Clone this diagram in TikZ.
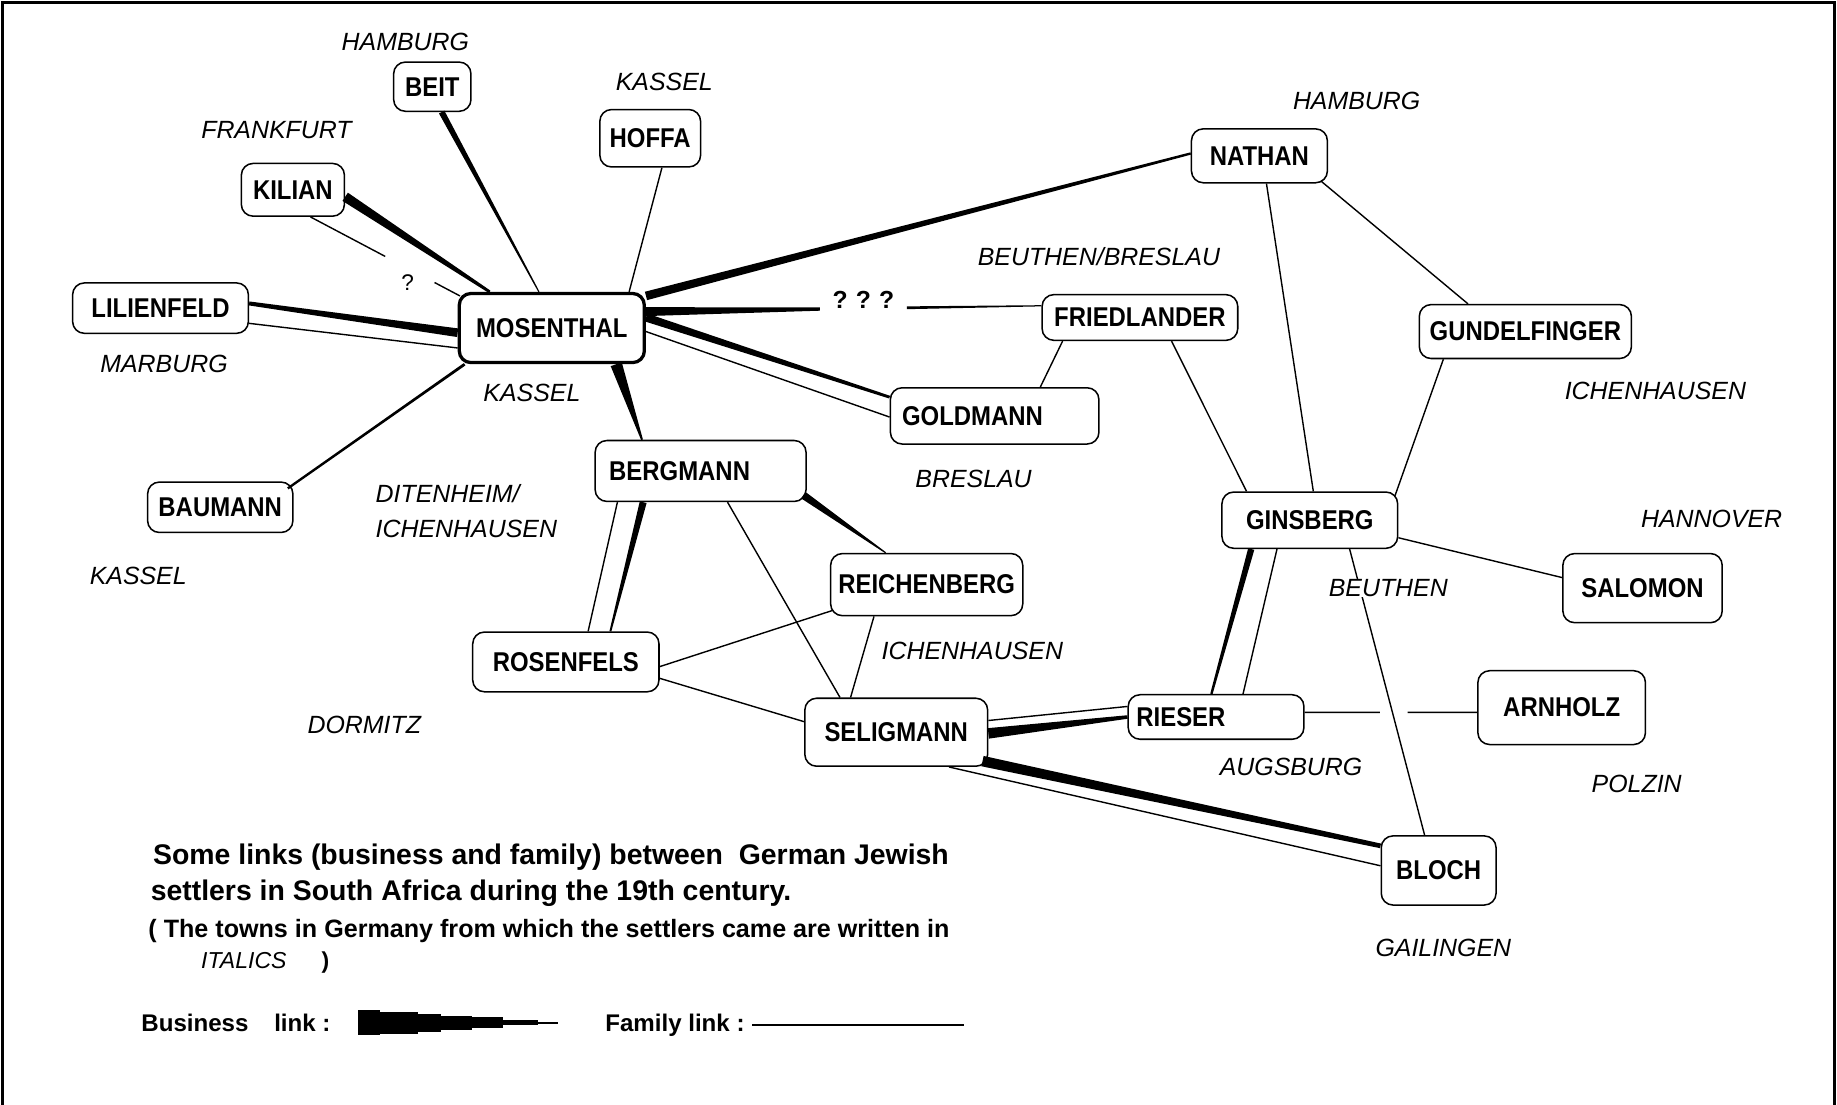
\documentclass[tikz,border=0pt]{standalone}
\usepackage{fontspec}
\setmainfont{Liberation Sans}
\newfontfamily\namefont[FakeStretch=0.88]{Liberation Sans}
\usetikzlibrary{calc, positioning}

\tikzset{
  person/.style={draw, rounded corners=1mm, line width=0.13mm, inner sep=0pt,
    font=\namefont\bfseries\fontsize{6.6}{7}\selectfont},
  town/.style={font=\itshape\fontsize{6.05}{8.6}\selectfont, inner sep=0pt},
  family/.style={line width=0.12mm},
  caption/.style={font=\bfseries\fontsize{6.9}{8}\selectfont, inner sep=0pt, anchor=west},
  small caption/.style={font=\bfseries\fontsize{6.1}{7}\selectfont, inner sep=0pt, anchor=west},
  key/.style={font=\bfseries\fontsize{5.85}{7}\selectfont, inner sep=0pt, anchor=west},
}

% tapered business link: from, to, half width at from, half width at to
\newcommand\bizlink[4]{\fill ($(#1)!#3!90:(#2)$) -- ($(#2)!#4!-90:(#1)$) -- ($(#2)!#4!90:(#1)$) -- ($(#1)!#3!-90:(#2)$) -- cycle;}

\begin{document}
\begin{tikzpicture}[x=0.1mm, y=-0.1mm]
  \useasboundingbox (0,0) rectangle (1568,943);
  \fill[white] (0,0) rectangle (1568,943);
  \draw[line width=0.2mm] (2,943) -- (2,2) -- (1566,2) -- (1566,943);

  % settlers
  \node[person, minimum width=6.6mm, minimum height=4.2mm] (beit) at (369,74) {BEIT};
  \node[person, minimum width=8.6mm, minimum height=4.9mm] (hoffa) at (555,118) {HOFFA};
  \node[person, minimum width=8.8mm, minimum height=4.5mm] (kilian) at (250,162) {KILIAN};
  \node[person, minimum width=15mm, minimum height=4.3mm] (lilienfeld) at (137,263) {LILIENFELD};
  \node[person, line width=0.28mm, minimum width=15.8mm, minimum height=5.9mm] (mosenthal) at (471,280) {MOSENTHAL};
  \node[person, minimum width=12.4mm, minimum height=4.3mm] (baumann) at (188,433) {BAUMANN};
  \node[person, text width=15.6mm, inner xsep=1.2mm, align=left, minimum height=5.2mm] (bergmann) at (598,402) {BERGMANN};
  \node[person, text width=15.8mm, inner xsep=1mm, align=left, minimum height=4.8mm] (goldmann) at (849,355) {GOLDMANN};
  \node[person, minimum width=16.7mm, minimum height=3.9mm] (friedlander) at (973,271) {FRIEDLANDER};
  \node[person, minimum width=11.6mm, minimum height=4.6mm] (nathan) at (1075,133) {NATHAN};
  \node[person, minimum width=18.1mm, minimum height=4.6mm] (gundelfinger) at (1302,283) {GUNDELFINGER};
  \node[person, minimum width=15mm, minimum height=4.8mm] (ginsberg) at (1118,444) {GINSBERG};
  \node[person, minimum width=13.6mm, minimum height=5.9mm] (salomon) at (1402,502) {SALOMON};
  \node[person, minimum width=16.4mm, minimum height=5.3mm] (reichenberg) at (791,499) {REICHENBERG};
  \node[person, minimum width=15.9mm, minimum height=5.1mm] (rosenfels) at (483,565) {ROSENFELS};
  \node[person, minimum width=15.6mm, minimum height=5.8mm] (seligmann) at (765,625) {SELIGMANN};
  \node[person, text width=13.6mm, inner xsep=0.7mm, align=left, minimum height=3.8mm] (rieser) at (1038,612) {RIESER};
  \node[person, minimum width=14.3mm, minimum height=6.3mm] (arnholz) at (1333,604) {ARNHOLZ};
  \node[person, minimum width=9.8mm, minimum height=5.9mm] (bloch) at (1228,743) {BLOCH};

  % link ends
  \coordinate (beit-m) at ([shift={(8,0)}]beit.south);
  \coordinate (mos-b) at ([shift={(-11,0)}]mosenthal.north);
  \coordinate (hoffa-m) at ([shift={(10,0)}]hoffa.south);
  \coordinate (mos-h) at ([shift={(66,0)}]mosenthal.north);
  \coordinate (kilian-m) at ([shift={(0,6)}]kilian.east);
  \coordinate (mos-k) at ([shift={(-53,0)}]mosenthal.north);
  \coordinate (kilian-q) at ([shift={(15,0)}]kilian.south);
  \coordinate (mos-q) at ([shift={(2,3.5)}]mosenthal.north west);
  \coordinate (lil-m) at ([shift={(0,-4)}]lilienfeld.east);
  \coordinate (mos-l) at ([shift={(0,4)}]mosenthal.west);
  \coordinate (lil-mf) at ([shift={(0,13)}]lilienfeld.east);
  \coordinate (mos-lf) at ([shift={(0,17)}]mosenthal.west);
  \coordinate (bau-m) at ([shift={(-5,6)}]baumann.north east);
  \coordinate (mos-ba) at ([shift={(6,0)}]mosenthal.south west);
  \coordinate (mos-n) at ([shift={(0,3.5)}]mosenthal.north east);
  \coordinate (nathan-m) at ([shift={(0,-2)}]nathan.west);
  \coordinate (mos-f) at ([shift={(0,-14)}]mosenthal.east);
  \coordinate (fried-m) at ([shift={(0,-10)}]friedlander.west);
  \coordinate (mos-g) at ([shift={(0,-9)}]mosenthal.east);
  \coordinate (gold-m) at ([shift={(0,-16)}]goldmann.west);
  \coordinate (mos-gf) at ([shift={(0,3)}]mosenthal.east);
  \coordinate (gold-mf) at ([shift={(0,1)}]goldmann.west);
  \coordinate (mos-be) at ([shift={(55,0)}]mosenthal.south);
  \coordinate (berg-m) at ([shift={(-50,0)}]bergmann.north);

  \coordinate (berg-re) at ([shift={(-3,-6)}]bergmann.south east);
  \coordinate (reich-b) at ([shift={(-35,0)}]reichenberg.north);
  \coordinate (berg-r) at ([shift={(-49,0)}]bergmann.south);
  \coordinate (ros-b) at ([shift={(38,0)}]rosenfels.north);
  \coordinate (berg-rf) at ([shift={(-71,0)}]bergmann.south);
  \coordinate (ros-bf) at ([shift={(19,0)}]rosenfels.north);
  \coordinate (berg-s) at ([shift={(23,0)}]bergmann.south);
  \coordinate (sel-b) at ([shift={(-48,0)}]seligmann.north);
  \coordinate (reich-r) at ([shift={(2,-5)}]reichenberg.south west);
  \coordinate (ros-re) at ([shift={(0,4)}]rosenfels.east);
  \coordinate (reich-s) at ([shift={(-45,0)}]reichenberg.south);
  \coordinate (sel-re) at ([shift={(-39,0)}]seligmann.north);
  \coordinate (ros-s) at ([shift={(0,14)}]rosenfels.east);
  \coordinate (sel-r) at ([shift={(0,-9)}]seligmann.west);

  \coordinate (fried-g) at ([shift={(-66,0)}]friedlander.south);
  \coordinate (gold-f) at ([shift={(39,0)}]goldmann.north);
  \coordinate (fried-gi) at ([shift={(27,0)}]friedlander.south);
  \coordinate (gins-f) at ([shift={(-54,0)}]ginsberg.north);
  \coordinate (nathan-gi) at ([shift={(6,0)}]nathan.south);
  \coordinate (gins-n) at ([shift={(3,0)}]ginsberg.north);
  \coordinate (nathan-gu) at ([shift={(-6,-2)}]nathan.south east);
  \coordinate (gund-n) at ([shift={(-49,0)}]gundelfinger.north);
  \coordinate (gund-gi) at ([shift={(-70,0)}]gundelfinger.south);
  \coordinate (gins-gu) at ([shift={(-3,4)}]ginsberg.north east);
  \coordinate (gins-s) at ([shift={(0,15)}]ginsberg.east);
  \coordinate (sal-g) at ([shift={(0,-9)}]salomon.west);
  \coordinate (gins-r) at ([shift={(-50,0)}]ginsberg.south);
  \coordinate (ries-g) at ([shift={(-4,0)}]rieser.north);
  \coordinate (gins-rf) at ([shift={(-28,0)}]ginsberg.south);
  \coordinate (ries-gf) at ([shift={(23,0)}]rieser.north);
  \coordinate (gins-bl) at ([shift={(34,0)}]ginsberg.south);
  \coordinate (bloch-g) at ([shift={(-12,0)}]bloch.north);
  \coordinate (ries-a) at ([shift={(0,-4)}]rieser.east);
  \coordinate (arn-r) at ([shift={(0,4)}]arnholz.west);
  \coordinate (sel-ri) at ([shift={(0,1)}]seligmann.east);
  \coordinate (ries-s) at (rieser.west);
  \coordinate (sel-rf) at ([shift={(0,-10)}]seligmann.east);
  \coordinate (ries-sf) at ([shift={(0,-9)}]rieser.west);
  \coordinate (sel-bl) at ([shift={(-5,-5)}]seligmann.south east);
  \coordinate (bloch-s) at ([shift={(0,-21)}]bloch.west);
  \coordinate (sel-blf) at ([shift={(45,0)}]seligmann.south);
  \coordinate (bloch-sf) at ([shift={(0,-4)}]bloch.west);

  % business links
  \bizlink{beit-m}{mos-b}{0.26mm}{0.05mm}
  \bizlink{kilian-m}{mos-k}{0.42mm}{0.12mm}
  \bizlink{lil-m}{mos-l}{0.17mm}{0.37mm}
  \bizlink{bau-m}{mos-ba}{0.1mm}{0.12mm}
  \bizlink{mos-n}{nathan-m}{0.37mm}{0.1mm}
  \bizlink{mos-g}{gold-m}{0.35mm}{0.12mm}
  \bizlink{mos-be}{berg-m}{0.5mm}{0.08mm}
  \bizlink{berg-re}{reich-b}{0.33mm}{0.05mm}
  \bizlink{berg-r}{ros-b}{0.3mm}{0.08mm}
  \bizlink{gins-r}{ries-g}{0.27mm}{0.1mm}
  \bizlink{sel-ri}{ries-s}{0.45mm}{0.15mm}
  \bizlink{sel-bl}{bloch-s}{0.45mm}{0.2mm}
  \coordinate (mf1) at ($(mos-f)!0.44!(fried-m)$);
  \coordinate (mf2) at ($(mos-f)!0.66!(fried-m)$);
  \bizlink{mos-f}{mf1}{0.38mm}{0.14mm}
  \bizlink{mf2}{fried-m}{0.12mm}{0.05mm}
  \node[font=\bfseries\fontsize{6}{7}\selectfont, inner sep=0pt] (qqq) at ($(mos-f)!0.55!(fried-m)+(0,-7)$) {?\,\,?\,\,?};

  % family links
  \coordinate (kq1) at ($(kilian-q)!0.5!(mos-q)$);
  \coordinate (kq2) at ($(kilian-q)!0.83!(mos-q)$);
  \draw[family] (kilian-q) -- (kq1) (kq2) -- (mos-q);
  \node[font=\fontsize{5.5}{6}\selectfont, inner sep=0pt] (kq) at (348,241) {?};
  \draw[family] (hoffa-m) -- (mos-h);
  \draw[family] (lil-mf) -- (mos-lf);
  \draw[family] (mos-gf) -- (gold-mf);
  \draw[family] (berg-rf) -- (ros-bf);
  \draw[family] (berg-s) -- (sel-b);
  \draw[family] (reich-r) -- (ros-re);
  \draw[family] (reich-s) -- (sel-re);
  \draw[family] (ros-s) -- (sel-r);
  \draw[family] (fried-g) -- (gold-f);
  \draw[family] (fried-gi) -- (gins-f);
  \draw[family] (nathan-gi) -- (gins-n);
  \draw[family] (nathan-gu) -- (gund-n);
  \draw[family] (gund-gi) -- (gins-gu);
  \draw[family] (gins-s) -- (sal-g);
  \draw[family] (gins-rf) -- (ries-gf);
  \draw[family] (gins-bl) -- (bloch-g);
  \draw[family] (sel-rf) -- (ries-sf);
  \draw[family] (sel-blf) -- (bloch-sf);
  \draw[family] (ries-a) -- ($(ries-a)!0.436!(arn-r)$) ($(ries-a)!0.597!(arn-r)$) -- (arn-r);

  % towns
  \node[town] (t-beit) at (346,36) {HAMBURG};
  \node[town] (t-hoffa) at (567,70) {KASSEL};
  \node[town] (t-kilian) at (236,111) {FRANKFURT};
  \node[town] (t-lil) at (140,311) {MARBURG};
  \node[town] (t-mos) at (454,335) {KASSEL};
  \node[town] (t-bau) at (118,492) {KASSEL};
  \node[town, anchor=west, align=left] (t-berg) at (320,436) {DITENHEIM/\\ICHENHAUSEN};
  \node[town] (t-gold) at (831,409) {BRESLAU};
  \node[town] (t-fried) at (938,219) {BEUTHEN/BRESLAU};
  \node[town] (t-nathan) at (1158,86) {HAMBURG};
  \node[town] (t-gund) at (1413,334) {ICHENHAUSEN};
  \node[town, fill=white, inner xsep=0.3mm] (t-gins) at (1185,502) {BEUTHEN};
  \node[town] (t-sal) at (1461,443) {HANNOVER};
  \node[town] (t-reich) at (830,556) {ICHENHAUSEN};
  \node[town] (t-ros) at (311,619) {DORMITZ};
  \node[town] (t-ries) at (1102,655) {AUGSBURG};
  \node[town] (t-arn) at (1397,669) {POLZIN};
  \node[town] (t-bloch) at (1232,809) {GAILINGEN};

  % caption and key
  \node[caption] (cap1) at (130,732) {Some links (business and family) between\ \ German Jewish};
  \node[caption] (cap2) at (128,762) {settlers in South Africa during the 19th century.};
  \node[small caption] (cap3) at (126,795) {( The towns in Germany from which the settlers came are written in};
  \node[key] (cap4) at (171,822) {\mdseries\itshape\fontsize{5.6}{7}\selectfont ITALICS\hspace{3mm}\upshape\bfseries)};
  \node[key] (key-biz) at (120,873) {Business\hspace{2.2mm}link :};
  \foreach \xa/\xb/\h in {306/324/21, 324/357/19, 357/376/15, 376/403/12, 403/429/9.4, 429/459/4.3, 459/476/1.3}
    \fill (\xa,{873-\h/2}) rectangle (\xb,{873+\h/2});
  \node[key] (key-fam) at (516,875) {Family link :};
  \coordinate (key-end) at (823,875);
  \draw[family] (key-fam.east) ++(6,0) -- (key-end);
\end{tikzpicture}
\end{document}
